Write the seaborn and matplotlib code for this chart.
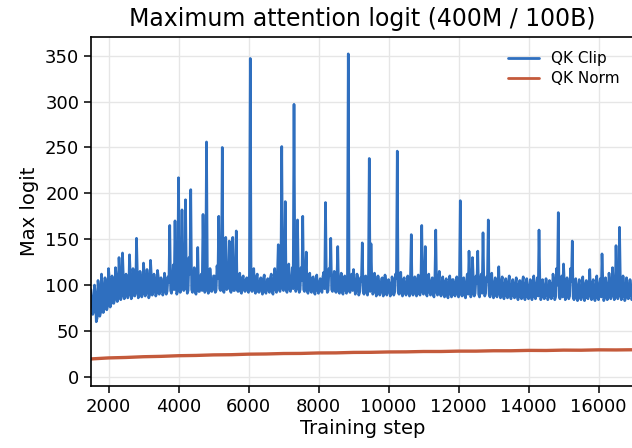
import numpy as np
import pandas as pd
import matplotlib
matplotlib.use("Agg")
import matplotlib.pyplot as plt
import seaborn as sns

# QK Clip max logit, at steps 1500, 1550, ... (one row = 1000 steps)
clip_steps = np.arange(1500, 17000, 50)
clip_logit = [
    95, 68, 100, 60, 105, 66, 112, 70, 108, 73, 118, 76, 110, 80, 119, 82, 130, 84, 135, 85,
    112, 86, 133, 85, 118, 88, 151, 86, 115, 87, 124, 88, 117, 86, 127, 89, 112, 88, 116, 90,
    108, 89, 113, 90, 109, 165, 91, 122, 170, 90, 217, 92, 182, 94, 193, 91, 130, 204, 92, 119,
    90, 141, 93, 112, 177, 92, 256, 91, 118, 93, 110, 92, 121, 175, 94, 250, 92, 152, 96, 148,
    92, 152, 94, 159, 93, 113, 91, 110, 93, 108, 92, 347, 93, 118, 91, 112, 92, 108, 90, 111,
    91, 107, 92, 112, 90, 118, 92, 144, 93, 251, 94, 191, 92, 123, 93, 119, 297, 93, 171, 92,
    119, 175, 93, 136, 91, 113, 92, 109, 90, 111, 91, 107, 92, 114, 190, 92, 118, 151, 93, 115,
    92, 142, 91, 113, 90, 110, 91, 352, 92, 112, 117, 90, 112, 89, 108, 146, 90, 110, 89, 238,
    145, 90, 113, 88, 110, 89, 107, 88, 111, 89, 106, 88, 109, 89, 112, 246, 90, 114, 88, 108,
    89, 110, 88, 155, 89, 109, 88, 111, 89, 165, 90, 142, 88, 112, 89, 108, 87, 160, 89, 115,
    88, 109, 87, 107, 86, 110, 87, 106, 88, 109, 87, 192, 88, 108, 86, 112, 137, 87, 130, 88,
    110, 137, 87, 112, 157, 88, 109, 171, 87, 113, 86, 108, 87, 120, 86, 109, 85, 107, 86, 110,
    85, 106, 86, 108, 84, 105, 85, 109, 84, 107, 85, 106, 84, 110, 85, 108, 160, 84, 106, 85,
    107, 84, 105, 85, 112, 84, 118, 179, 85, 110, 123, 84, 108, 85, 118, 148, 84, 107, 83, 106,
    84, 109, 83, 105, 85, 117, 84, 106, 83, 110, 84, 107, 134, 83, 108, 84, 113, 85, 119, 84,
    143, 85, 163, 84, 110, 83, 108, 85, 106, 84,
]

# in-between readings at steps 1525, 1575, ...
mid_steps = np.arange(1525, 17000, 50)
mid_logit = [
    84, 71, 90, 64, 96, 70, 100, 74, 102, 77, 106, 80, 105, 84, 108, 86, 110, 88, 108, 89,
    104, 89, 110, 88, 106, 91, 112, 89, 105, 90, 110, 91, 106, 89, 110, 92, 104, 91, 108, 93,
    102, 92, 105, 93, 103, 94, 100, 95, 104, 93, 110, 95, 106, 96, 108, 94, 112, 95, 104, 93,
    104, 93, 108, 94, 112, 94, 110, 93, 105, 95, 110, 94, 107, 96, 109, 94, 112, 95, 104, 95,
    106, 94, 110, 95, 104, 93, 108, 95, 105, 94, 111, 95, 106, 94, 109, 93, 104, 94, 107, 93,
    103, 94, 108, 93, 105, 95, 110, 96, 112, 96, 109, 95, 106, 95, 104, 96, 112, 96, 107, 95,
    105, 95, 110, 94, 104, 94, 108, 93, 106, 94, 103, 94, 109, 96, 105, 94, 111, 95, 104, 94,
    106, 93, 104, 93, 108, 94, 105, 94, 110, 94, 103, 93, 107, 92, 104, 93, 109, 92, 105, 93,
    103, 92, 106, 91, 102, 92, 108, 91, 104, 92, 101, 91, 105, 92, 107, 93, 103, 91, 106, 92,
    102, 91, 105, 92, 104, 91, 107, 91, 103, 92, 106, 91, 102, 92, 104, 90, 108, 92, 103, 91,
    101, 90, 104, 90, 102, 90, 106, 90, 103, 90, 100, 91, 105, 89, 102, 90, 107, 90, 104, 91,
    102, 90, 106, 91, 101, 91, 104, 90, 108, 90, 102, 89, 100, 90, 104, 89, 101, 88, 103, 89,
    99, 88, 102, 89, 100, 87, 104, 88, 101, 87, 98, 88, 103, 87, 100, 88, 102, 87, 99, 88,
    98, 87, 101, 88, 103, 87, 100, 88, 99, 87, 102, 87, 98, 88, 104, 87, 100, 86, 99, 87,
    97, 87, 101, 86, 99, 88, 102, 87, 98, 86, 100, 87, 103, 86, 99, 87, 101, 88, 98, 87,
    100, 88, 102, 87, 99, 86, 101, 88, 98, 87,
]

# QK Norm max logit (every 500 steps)
norm_steps = np.arange(1500, 17500, 500)
norm_logit = [
    19.5, 20.6, 21.1, 21.9, 22.3, 23.0, 23.3, 23.9, 24.1, 24.7, 24.9, 25.4, 25.5, 26.0, 26.1, 26.6,
    26.7, 27.1, 27.2, 27.6, 27.6, 28.0, 28.0, 28.4, 28.4, 28.8, 28.7, 29.1, 29.0, 29.4, 29.3, 29.5,
]

clip_df = pd.DataFrame({"step": np.concatenate([clip_steps, mid_steps]),
                        "logit": clip_logit + mid_logit}).sort_values("step")
norm_df = pd.DataFrame({"step": norm_steps, "logit": norm_logit})

sns.set_theme(style="ticks", rc={"axes.grid": True, "grid.color": "#e6e6e6",
                                 "grid.linewidth": 1.0, "axes.edgecolor": "black",
                                 "text.color": "black", "axes.labelcolor": "black",
                                 "xtick.color": "black", "ytick.color": "black"})
plt.rcParams["font.family"] = ["DejaVu Sans"]

fig = plt.figure(figsize=(6.32, 4.48), dpi=100)
ax = fig.add_axes([0.144, 0.1384, 0.8584, 0.7783])

sns.lineplot(data=clip_df, x="step", y="logit", estimator=None, sort=False,
             color="#2f6fbf", linewidth=1.9, label="QK Clip", ax=ax)
sns.lineplot(data=norm_df, x="step", y="logit", estimator=None,
             color="#c45a3b", linewidth=2.4, label="QK Norm", ax=ax)

ax.set_xlim(1500, 17000)
ax.set_ylim(-10, 370)
ax.set_xticks(range(2000, 17000, 2000))
ax.set_yticks(range(0, 351, 50))
ax.tick_params(labelsize=13, length=5, width=1.1, color="black")
ax.set_title("Maximum attention logit (400M / 100B)", fontsize=17, pad=8)
ax.set_xlabel("Training step", fontsize=14, labelpad=2)
ax.set_ylabel("Max logit", fontsize=14)
for s in ax.spines.values():
    s.set_linewidth(1.2)

leg = ax.legend(frameon=False, fontsize=11, loc="upper right", labelspacing=0.35)
for line in leg.get_lines():
    line.set_linewidth(2.0)

fig.savefig("out.png", dpi=100)
